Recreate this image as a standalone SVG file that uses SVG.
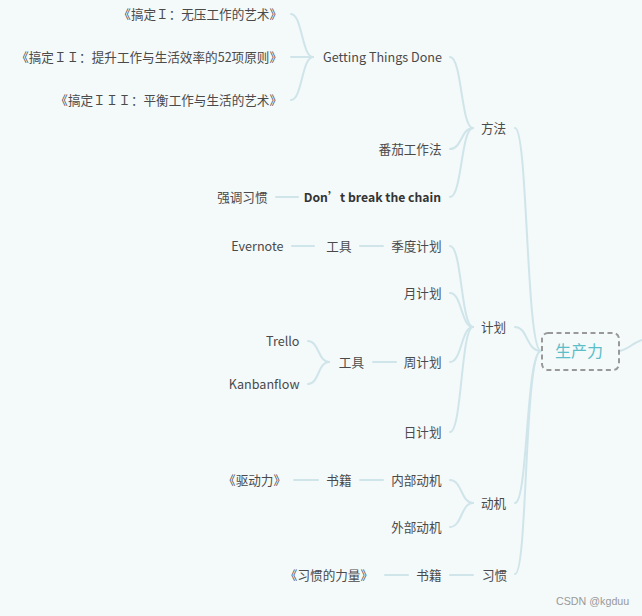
<svg xmlns="http://www.w3.org/2000/svg" width="642" height="616" viewBox="0 0 642 616">
<style>
text{font-family:"Noto Sans CJK SC","Noto Sans",sans-serif;font-size:12.6px;fill:#4a4a4a;dominant-baseline:central}
.r{text-anchor:end}
.m{text-anchor:middle}
.c path,.c line{fill:none;stroke:#cfe5ea;stroke-width:2;stroke-linecap:round}
</style>
<rect width="642" height="616" fill="#f4f9fa"/>
<g class="c" id="connectors">
<path d="M619,351 C628,350 632,343 642,340" stroke-width="3"/>
<path d="M541,351 C526,351 528,128 515,128" stroke-width="2.2"/>
<path d="M541,351 C526,351 528,327 515,327" stroke-width="2.2"/>
<path d="M541,351 C526,351 528,503 515,503" stroke-width="2.2"/>
<path d="M541,351 C524,351 528,574 515,574" stroke-width="2.2"/>
<path d="M473,128 C461,128 462,57 450,57"/>
<path d="M473,128 C461,128 462,149 450,149"/>
<path d="M473,128 C461,128 462,197 450,197"/>
<path d="M313,57 C302,57 302,14 291,14"/>
<line x1="291" y1="57" x2="313" y2="57"/>
<path d="M313,57 C302,57 302,100 291,100"/>
<line x1="276" y1="197" x2="298" y2="197"/>
<path d="M473,327 C461,327 462,246 450,246"/>
<path d="M473,327 C461,327 462,293 450,293"/>
<path d="M473,327 C461,327 462,362 450,362"/>
<path d="M473,327 C461,327 462,432 450,432"/>
<line x1="360" y1="246" x2="383" y2="246"/>
<line x1="292" y1="246" x2="314" y2="246"/>
<line x1="373" y1="362" x2="396" y2="362"/>
<path d="M329,362 C318,362 319,341 308,341"/>
<path d="M329,362 C318,362 319,384 308,384"/>
<path d="M473,503 C461,503 462,480 450,480"/>
<path d="M473,503 C461,503 462,527 450,527"/>
<line x1="360" y1="480" x2="383" y2="480"/>
<line x1="294" y1="480" x2="318" y2="480"/>
<line x1="450" y1="575" x2="473" y2="575"/>
<line x1="385" y1="575" x2="408" y2="575"/>
</g>
<g id="root">
<rect x="542" y="333" width="77" height="37" rx="6" fill="none" stroke="#999" stroke-width="2" stroke-dasharray="5 3.5"/>
<text class="m" x="579" y="350" style="font-size:16px;fill:#5bbec8">生产力</text>
</g>
<g id="n-fangfa"><text x="481" y="127">方法</text></g>
<g id="n-jihua"><text x="481" y="326.5">计划</text></g>
<g id="n-dongji"><text x="481" y="502.5">动机</text></g>
<g id="n-xiguan"><text x="482" y="574.5">习惯</text></g>
<g id="n-gtd"><text class="r" x="442" y="56.5">Getting Things Done</text></g>
<g id="n-fanqie"><text class="r" x="441.5" y="148.5">番茄工作法</text></g>
<g id="n-dont"><text class="r" x="441" y="196.5" style="font-size:12.2px;font-weight:bold;fill:#333">Don’t break the chain</text></g>
<g id="n-qiangdiao"><text class="r" x="267.5" y="196.5">强调习惯</text></g>
<g id="n-gtd1"><text class="r" x="282" y="13.5">《搞定Ｉ：无压工作的艺术》</text></g>
<g id="n-gtd2"><text class="r" x="282" y="56.5">《搞定ＩＩ：提升工作与生活效率的52项原则》</text></g>
<g id="n-gtd3"><text class="r" x="282" y="99.5">《搞定ＩＩＩ：平衡工作与生活的艺术》</text></g>
<g id="n-jidu"><text class="r" x="441.5" y="245.5">季度计划</text></g>
<g id="n-yue"><text class="r" x="441.5" y="292.5">月计划</text></g>
<g id="n-zhou"><text class="r" x="441.5" y="361.5">周计划</text></g>
<g id="n-ri"><text class="r" x="441.5" y="431.5">日计划</text></g>
<g id="n-gongju1"><text class="r" x="351.5" y="245.5">工具</text></g>
<g id="n-evernote"><text class="r" x="283.5" y="245.5">Evernote</text></g>
<g id="n-gongju2"><text class="r" x="364" y="361.5">工具</text></g>
<g id="n-trello"><text class="r" x="299.5" y="340.5">Trello</text></g>
<g id="n-kanban"><text class="r" x="299.5" y="383.5">Kanbanflow</text></g>
<g id="n-neibu"><text class="r" x="441.5" y="479.5">内部动机</text></g>
<g id="n-waibu"><text class="r" x="441.5" y="526.5">外部动机</text></g>
<g id="n-shuji1"><text class="r" x="351.5" y="479.5">书籍</text></g>
<g id="n-qudongli"><text class="r" x="286" y="479.5">《驱动力》</text></g>
<g id="n-shuji2"><text class="r" x="441.5" y="574.5">书籍</text></g>
<g id="n-xglb"><text class="r" x="373" y="574.5">《习惯的力量》</text></g>
<text x="556" y="601" style="font-family:'Liberation Sans',sans-serif;font-size:10.7px;fill:#999">CSDN @kgduu</text>
</svg>
